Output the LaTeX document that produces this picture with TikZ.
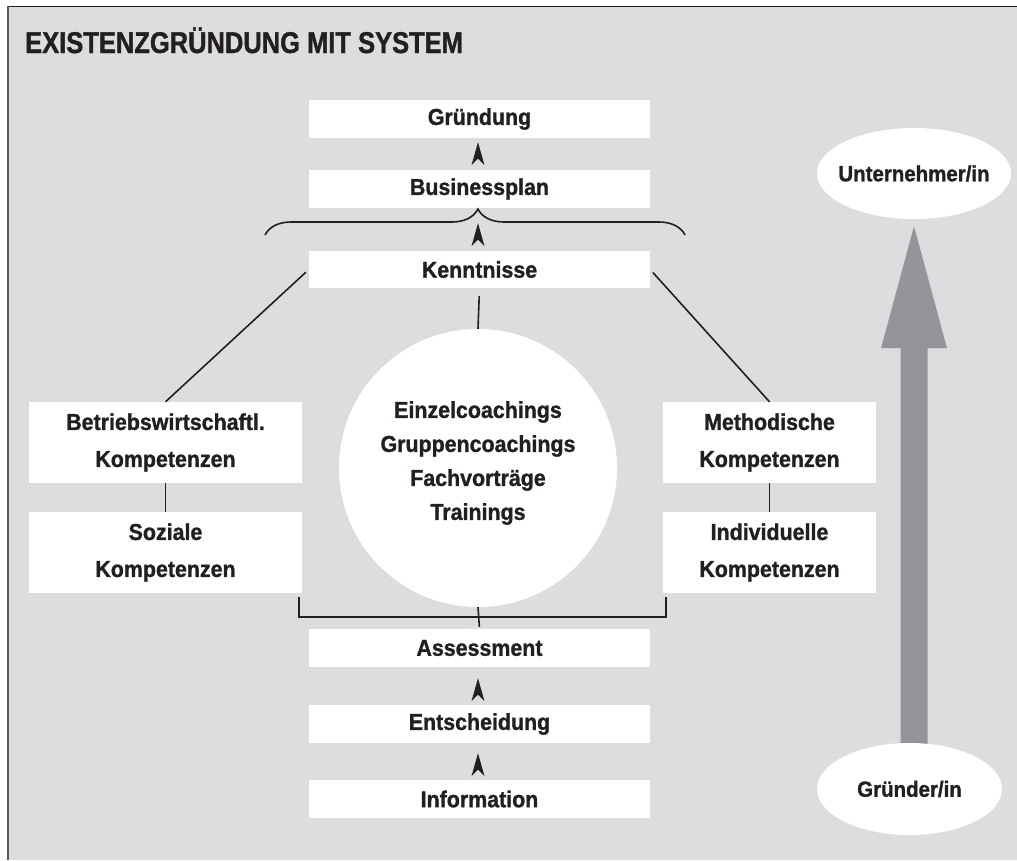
\documentclass[tikz,border=0pt]{standalone}
\usepackage{fontspec}
\setmainfont{Liberation Sans}[BoldFeatures={FakeBold=1.2,FakeStretch=0.93}]
\newfontfamily\headfont{Liberation Sans Bold}[FakeStretch=0.85,FakeBold=1.2]
\usetikzlibrary{arrows.meta,decorations.pathreplacing,calc,shapes.geometric}
\definecolor{panel}{HTML}{DCDDDF}
\definecolor{ink}{HTML}{231F20}
\definecolor{risegray}{HTML}{939598}
\begin{document}
\begin{tikzpicture}[x=1pt,y=-1pt,
  stage/.style={fill=white, inner sep=0pt, minimum width=341pt, minimum height=38pt,
    font=\bfseries\fontsize{23}{27}\selectfont, text=ink},
  skill/.style={fill=white, inner sep=0pt, minimum height=81pt, align=center,
    font=\bfseries\fontsize{23}{37}\selectfont, text=ink},
  role/.style={ellipse, fill=white, inner ysep=0pt, inner xsep=-30pt,
    font=\bfseries\fontsize{22}{26}\selectfont, text=ink},
  link/.style={draw=ink, line width=1.6pt},
  % notched arrowhead pointing up, tip at the pic origin
  headup/.pic={\fill[ink] (0,0) -- (6.5,23) -- (0,16.5) -- (-6.5,23) -- cycle;}
]
\useasboundingbox (0,0) rectangle (1017,860);

% panel with its frame lines
\fill[panel] (8,7) rectangle (1017,860);
\draw[line width=1.5pt, ink] (8,6.5) -- (1017,6.5);
\draw[line width=2pt, black!65] (8,6) -- (8,860);

% heading
\node[anchor=base west, inner sep=0pt, text=ink,
  font=\headfont\fontsize{30}{34}\selectfont]
  (title) at (25,53) {EXISTENZGRÜNDUNG MIT SYSTEM};

% central column
\node[stage] (gr) at (479.5,119) {Gründung};
\node[stage] (bp) at (479.5,189) {Businessplan};
\node[stage, minimum height=37pt] (ke) at (479.5,269.5) {Kenntnisse};
\node[stage] (as) at (479.5,648) {Assessment};
\node[stage] (en) at (479.5,724) {Entscheidung};
\node[stage] (inf) at (479.5,799) {Information};

% competence boxes
\node[skill, minimum width=273pt] (bw) at (165.5,442.5) {Betriebswirtschaftl.\\Kompetenzen};
\node[skill, minimum width=273pt] (so) at (165.5,552.5) {Soziale\\Kompetenzen};
\node[skill, minimum width=213pt] (me) at (769.5,442.5) {Methodische\\Kompetenzen};
\node[skill, minimum width=213pt] (in) at (769.5,552.5) {Individuelle\\Kompetenzen};

% coaching circle
\node[circle, fill=white, inner sep=0pt, minimum size=278pt] (co) at (478,468) {};
\node[align=center, inner sep=0pt, text=ink, font=\bfseries\fontsize{23}{34}\selectfont]
  (topics) at (478,463) {Einzelcoachings\\Gruppencoachings\\Fachvorträge\\Trainings};

% upward steps between the stages
\pic at ($(gr.south)+(-1.5,4)$) {headup};
\pic at ($(bp.south)+(-1.5,15)$) {headup};
\pic at ($(as.south)+(-1.5,11)$) {headup};
\pic at ($(en.south)+(-1.5,10)$) {headup};

% brace above the knowledge box
\draw[ink, line width=1.6pt, decorate,
  decoration={brace, amplitude=26pt, aspect=0.507}] (265,235) -- (685,235);

% connectors
\draw[link, shorten <=4pt] (ke.west) -- (bw.north);
\draw[link, shorten <=4pt] (ke.east) -- (me.north);
\draw[link, shorten <=8pt] (ke.south) -- (co.north);
\draw[link] (bw.south) -- (so.north);
\draw[link] (me.south) -- (in.north);

% bracket under the competences
\coordinate (bl) at (299,597);
\coordinate (br) at (666,597);
\draw[link] (bl) -- ++(0,20) -| (br);
\draw[link, shorten >=2pt] (co.south) -- (as.north);

% development arrow on the right
\node[role, minimum width=194pt, minimum height=91pt] (un) at (914,173.5) {Unternehmer/in};
\fill[risegray]
  ($(un.south)+(-13.5,570)$) -- ($(un.south)+(-13.5,129)$) --
  ($(un.south)+(-33,129)$) -- ($(un.south)+(0,7)$) --
  ($(un.south)+(33,129)$) -- ($(un.south)+(13.5,129)$) --
  ($(un.south)+(13.5,570)$) -- cycle;
\node[role, minimum width=185pt, minimum height=92pt] (gu) at (909.5,789) {Gründer/in};
\end{tikzpicture}
\end{document}
